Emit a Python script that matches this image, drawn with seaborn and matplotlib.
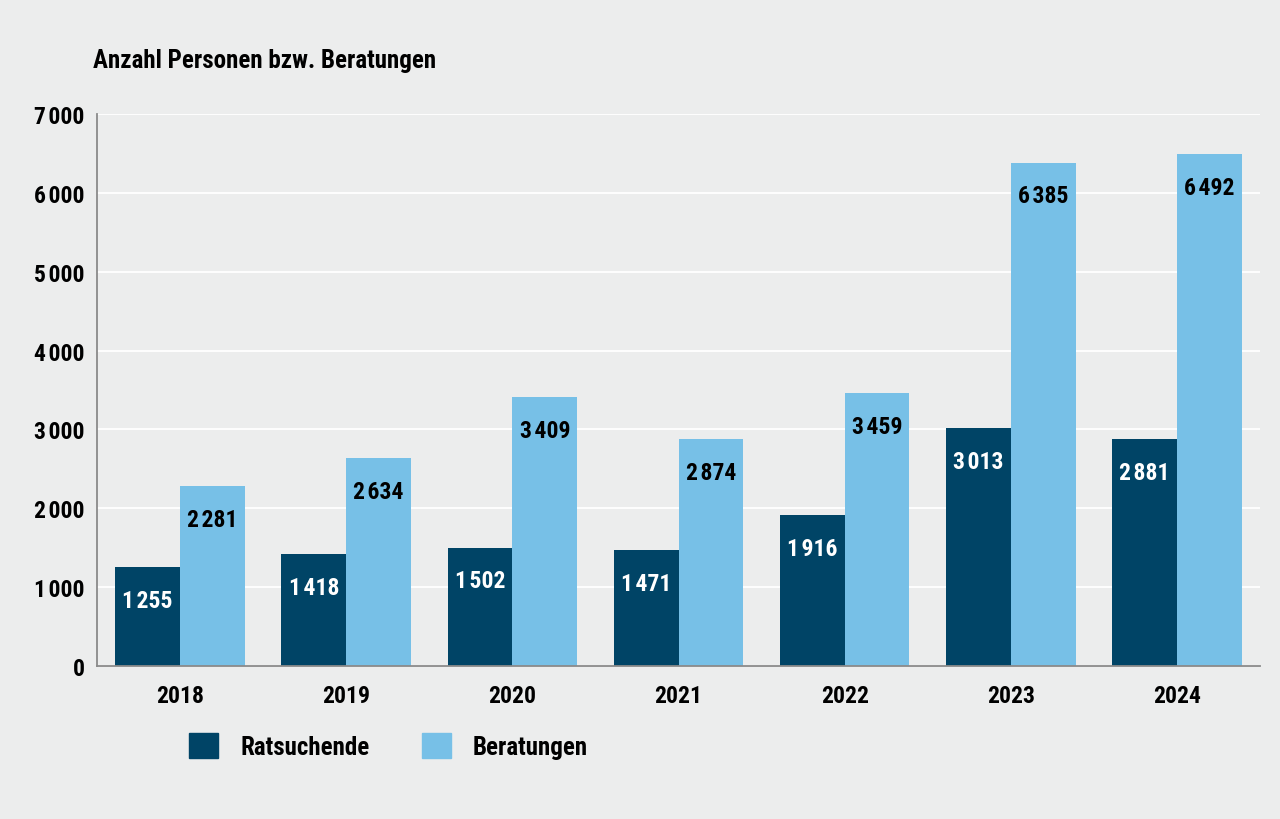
import matplotlib
matplotlib.use("Agg")
from matplotlib import pyplot as plt
from matplotlib import font_manager
from matplotlib.patches import Patch
import seaborn as sns
import pandas as pd

years = ["2018", "2019", "2020", "2021", "2022", "2023", "2024"]
ratsuchende = [1255, 1418, 1502, 1471, 1916, 3013, 2881]
beratungen = [2281, 2634, 3409, 2874, 3459, 6385, 6492]
series = ["Ratsuchende", "Beratungen"]
y_ticks = [0, 1000, 2000, 3000, 4000, 5000, 6000, 7000]

bg = "#eceded"
dark = "#004466"
light = "#77c0e7"

# narrow bold face if one is installed
installed = {f.name for f in font_manager.fontManager.ttflist}
font = "DejaVu Sans"
for cand in ["Liberation Sans Narrow", "Roboto Condensed", "DejaVu Sans Condensed", "Roboto"]:
    if cand in installed:
        font = cand
        break

sns.set_theme(style="white")
plt.rcParams["font.family"] = [font, "DejaVu Sans"]
plt.rcParams["font.weight"] = "bold"
plt.rcParams["text.color"] = "black"

df = pd.DataFrame({
    "Jahr": years * 2,
    "Wert": ratsuchende + beratungen,
    "Reihe": [series[0]] * len(years) + [series[1]] * len(years),
})

def fmt(v):
    s = str(v)
    if len(s) > 3:
        s = s[:-3] + "\u200a" + s[-3:]
    return s

fig = plt.figure(figsize=(12.8, 8.2), dpi=100, facecolor=bg)
ax = fig.add_axes([0.0758, 0.1866, 0.9086, 0.673])
ax.set_facecolor(bg)

sns.barplot(data=df, x="Jahr", y="Wert", hue="Reihe", order=years,
            hue_order=series, palette=[dark, light], width=0.78,
            saturation=1, linewidth=0, ax=ax, legend=False)

for cont, col in zip(ax.containers, ["white", "black"]):
    for bar in cont:
        h = bar.get_height()
        ax.annotate(fmt(int(round(h))), (bar.get_x() + bar.get_width() / 2, h),
                    xytext=(0, -24), textcoords="offset points",
                    ha="center", va="center", color=col,
                    fontsize=17, fontweight="bold")

ax.set_ylim(0, 7000)
ax.set_xlim(-0.5, 6.5)
ax.set_yticks(y_ticks)
ax.set_yticklabels([fmt(t) for t in y_ticks], fontsize=17, fontweight="bold")
ax.set_xticklabels(years, fontsize=17, fontweight="bold")
ax.grid(axis="y", color="white", linewidth=1.3)
ax.set_axisbelow(True)
ax.set_xlabel("")
ax.set_ylabel("")
for s in ["top", "right"]:
    ax.spines[s].set_visible(False)
for s in ["left", "bottom"]:
    ax.spines[s].set_color("#8a8a8a")
    ax.spines[s].set_linewidth(1.3)
ax.tick_params(axis="y", length=0, pad=9, colors="black")
ax.tick_params(axis="x", length=0, pad=13, colors="black")

fig.text(0.0727, 0.926, "Anzahl Personen bzw. Beratungen",
         fontsize=18, fontweight="bold", ha="left", va="center")

handles = [Patch(facecolor=dark, edgecolor=dark), Patch(facecolor=light, edgecolor=light)]
fig.legend(handles, series, loc="center left", bbox_to_anchor=(0.1477, 0.089),
           ncol=2, frameon=False, handlelength=1.16, handleheight=1.16,
           borderpad=0, borderaxespad=0,
           columnspacing=2.1, handletextpad=0.88, prop={"weight": "bold", "size": 18})

fig.savefig("out.png", dpi=100, facecolor=bg)
